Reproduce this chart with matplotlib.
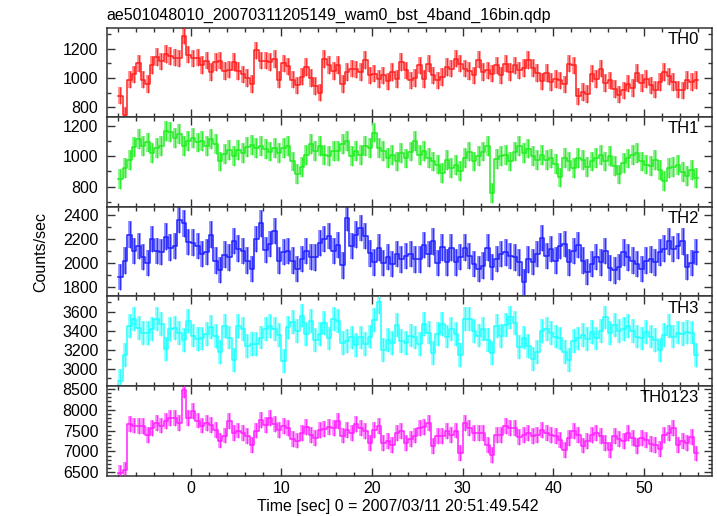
import numpy as np
import matplotlib
matplotlib.use("Agg")
import matplotlib.pyplot as plt
from matplotlib.ticker import MultipleLocator

plt.rcParams['font.family'] = ['Liberation Sans', 'DejaVu Sans']

title = "ae501048010_20070311205149_wam0_bst_4band_16bin.qdp"
xlabel = "Time [sec] 0 = 2007/03/11 20:51:49.542"
ylabel = "Counts/sec"
t_start = -8.0
bin_width = 0.5

th0 = [880, 745, 990, 1025, 1100, 990, 960, 1090, 1145, 1115, 1165, 1150, 1140, 1135, 1290, 1160,
       1135, 1140, 1090, 1120, 1040, 1110, 1120, 1050, 1057, 1110, 1050, 1025, 1000, 960, 1190, 1120,
       1120, 1110, 1130, 990, 1100, 1080, 990, 950, 1010, 1075, 1000, 945, 900, 1130, 1090, 1050,
       1090, 960, 1040, 1065, 1060, 1040,
       1122, 1018, 1030, 995, 1018, 977, 1041, 995, 1110, 1053, 984, 1000, 1087, 995, 1099, 1018,
       984, 1007, 1076, 1064, 1133, 1099, 1064, 1048, 1018, 1126, 1041, 1053, 1030, 1087, 1018, 1099,
       1041, 1087, 1053, 1069, 1122, 1069, 1034, 977, 1034, 972, 995, 984, 956, 1099, 1087, 874,
       903, 892, 1030, 995, 1064, 966, 984, 926, 887, 915, 961, 933, 1034, 966, 995, 949,
       920, 972, 1041, 1011, 972, 920, 915, 988, 972, 988]

th1 = [850, 920, 975, 1060, 1110, 1065, 1090, 1020, 1055, 1065, 1165, 1160, 1120, 1145, 1065, 1100,
       1120, 1090, 1100, 1065, 1110, 1080, 965, 1015, 1040, 1000, 1040, 1020, 1060, 1075, 1055, 1065,
       1045, 1030, 1055, 1020, 1055, 1065, 965, 885, 930, 1010, 1080, 1035, 1065, 1010, 1000, 1035,
       1035, 1080, 1100, 1000, 1035, 1010, 1065, 1055, 1155, 1055, 1035, 990, 1010, 965, 1020, 985,
       1030, 1100, 1010, 1035, 990, 965, 945, 890, 975, 920, 940, 900, 990, 1030, 965, 1000,
       1030, 1065, 760, 980, 1000, 1010, 965, 1030, 1065, 1020, 1050, 1000, 975, 1010, 975, 985,
       950, 860, 990, 965, 920, 990, 975, 930, 965, 990, 1010, 965, 1000, 935, 880, 955,
       985, 1010, 1020, 965, 945, 935, 975, 910, 835, 920, 930, 940, 895, 870, 910, 855]

th2 = [1882, 2019, 2236, 2100, 2141, 2050, 2000, 2200, 2100, 2090, 2220, 2128, 2141, 2360, 2330, 2175,
       2170, 2141, 2073, 2090, 2236, 2019, 1940, 2070, 2046, 2182, 2120, 2100, 2019, 1950, 2200, 2330,
       2110, 2160, 2264, 2019, 2090, 2100, 2019, 1950, 2032, 2100, 2050, 2046, 2168, 2200, 2223, 2100,
       2150, 1980, 2373, 2141, 2236, 2290, 2223, 2080, 2005, 2128, 2000, 2050, 1991, 2073, 2030, 2059,
       2073, 2030, 2030, 2150, 2073, 2180, 2000, 2130, 2005, 2128, 2005, 2050, 2128, 2060, 1990, 1950,
       1978, 2128, 1964, 2032, 2073, 2087, 2059, 2046, 2005, 1841, 2030, 2010, 2073, 2209, 2059, 2114,
       2019, 2141, 2160, 2005, 2100, 2150, 2019, 1923, 1991, 2050, 2005, 2100, 1960, 1937, 1964, 2087,
       2046, 2019, 1991, 1950, 2019, 2030, 2005, 2087, 2120, 2180, 2114, 2141, 2180, 1964, 2000, 2090]

th3 = [2870, 3150, 3450, 3520, 3430, 3380, 3380, 3420, 3523, 3470, 3206, 3417, 3430, 3380, 3300, 3500,
       3350, 3311, 3320, 3364, 3440, 3347, 3180, 3450, 3329, 3090, 3452, 3420, 3241, 3260, 3259, 3329,
       3420, 3452, 3420, 3360, 3080, 3435, 3490, 3400, 3560, 3364, 3500, 3300, 3364, 3480, 3320, 3523,
       3500, 3276, 3290, 3330, 3250, 3330, 3260, 3340, 3510, 3700, 3200, 3300, 3276, 3460, 3290, 3276,
       3350, 3330, 3260, 3470, 3382, 3170, 3364, 3470, 3340, 3417, 3370, 3150, 3520, 3520, 3400, 3350,
       3417, 3300, 3165, 3452, 3347, 3460, 3540, 3480, 3230, 3329, 3241, 3100, 3180, 3400, 3420, 3380,
       3340, 3320, 3180, 3090, 3294, 3320, 3360, 3311, 3390, 3320, 3400, 3540, 3380, 3460, 3399, 3420,
       3450, 3399, 3340, 3320, 3390, 3340, 3300, 3200, 3360, 3450, 3340, 3382, 3370, 3390, 3382, 3150]

th0123 = [6480, 6560, 7650, 7620, 7600, 7600, 7400, 7560, 7680, 7620, 7720, 7800, 7800, 7680, 8480, 7800,
          7960, 7740, 7620, 7680, 7640, 7520, 7260, 7380, 7720, 7440, 7500, 7440, 7360, 7160, 7500, 7760,
          7640, 7800, 7660, 7520, 7600, 7560, 7300, 7260, 7440, 7580, 7400, 7320, 7520, 7540, 7590, 7560,
          7720, 7380, 7520, 7440, 7660, 7560,
          7480, 7200, 7520, 7600, 7200, 7250, 7160, 7440, 7480, 7200, 7290, 7380, 7560, 7580, 7680, 7120,
          7360, 7360, 7480, 7400, 7500, 6960, 7680, 7560, 7440, 7440, 7440, 7160, 6920, 7400, 7400, 7600,
          7560, 7560, 7340, 7400, 7440, 7360, 7400, 7520, 7440, 7400, 7360, 7280, 7040, 7320, 7480, 7400,
          7140, 7240, 7400, 7440, 7360, 7200, 7040, 7370, 7300, 7240, 7440, 7320, 7120, 7320, 7280, 7180,
          7160, 7060, 7400, 7440, 7560, 7160, 7240, 7200, 7350, 6950]

bands = ["TH0", "TH1", "TH2", "TH3", "TH0123"]
series = [th0, th1, th2, th3, th0123]
errors = [60, 65, 110, 125, 190]
colors = ["#ff2020", "#20ee20", "#2020ff", "#20ffff", "#ff20ff"]
light = ["#ff8080", "#80f080", "#8080ff", "#80ffff", "#ff80ff"]
ylims = [(731, 1345), (667, 1255), (1720, 2467), (2820, 3760), (6418, 8565)]
ymajor = [200, 200, 200, 200, 500]
yminor = [100, 100, 100, 100, 100]
xlim = (-9.27, 57.47)

W, H = 717, 516
fig = plt.figure(figsize=(W / 100, H / 100), dpi=100)
left = 106.7 / W
width = (711.7 - 106.7) / W
top_px = 27.7
panel_px = (475.7 - 27.7) / 5

for i in range(5):
    bottom = 1 - (top_px + panel_px * (i + 1)) / H
    ax = fig.add_axes([left, bottom, width, panel_px / H])
    v = np.array(series[i], dtype=float)
    n = len(v)
    t = t_start + bin_width * (np.arange(n) + 0.5)
    edges = t_start + bin_width * np.arange(n + 1)
    e = errors[i]
    ax.vlines(t, v - e, v + e, color=light[i], lw=2.6, zorder=2)
    ax.vlines(t, v - e, v + e, color=colors[i], lw=0.7, alpha=0.85, zorder=3)
    ax.step(edges, np.append(v, v[-1]), where='post', color=colors[i], lw=1.1, zorder=4)
    ax.set_xlim(*xlim)
    ax.set_ylim(*ylims[i])
    ax.xaxis.set_major_locator(MultipleLocator(10))
    ax.xaxis.set_minor_locator(MultipleLocator(2))
    ax.yaxis.set_major_locator(MultipleLocator(ymajor[i]))
    ax.yaxis.set_minor_locator(MultipleLocator(yminor[i]))
    ax.tick_params(which='both', direction='in', top=True, right=True,
                   colors='#333333', labelcolor='black', labelsize=11.5, width=1.0)
    ax.tick_params(which='major', length=5.5)
    ax.tick_params(which='minor', length=3)
    ax.tick_params(axis='y', pad=6)
    ax.tick_params(axis='x', pad=4)
    for s in ax.spines.values():
        s.set_color('#333333')
        s.set_linewidth(1.1)
    if i < 4:
        ax.tick_params(labelbottom=False)
    ax.text(0.979, 0.955, bands[i], transform=ax.transAxes, ha='right', va='top', fontsize=12)

fig.text(left, 1 - 15 / H, title, ha='left', va='center', fontsize=11.5)
fig.text(398 / W, 1 - 506 / H, xlabel, ha='center', va='center', fontsize=11.5)
fig.text(41 / W, 1 - 252 / H, ylabel, ha='center', va='center', rotation=90, fontsize=11.5)

fig.savefig("out.png", dpi=100, facecolor='white')
